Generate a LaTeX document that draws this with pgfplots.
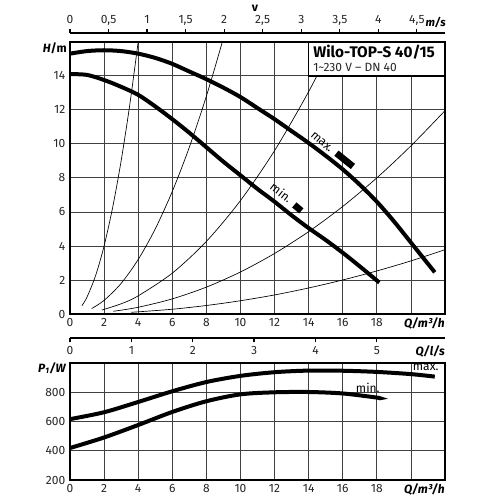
\documentclass[border=0pt]{standalone}
\usepackage{fontspec}
\setmainfont{Fira Sans}
\usepackage{pgfplots}
\pgfplotsset{compat=1.18}
\begin{document}
\begin{tikzpicture}
\useasboundingbox (0,0) rectangle (375pt,-375pt);
\pgfplotsset{
 base/.style={scale only axis, width=281.25pt, xmin=0, xmax=22,
   /pgf/number format/assume math mode=true,
   tick label style={font=\fontsize{9}{10}\selectfont, text=black!85},
   axis line style={line width=1.5pt},
   major grid style={line width=0.6pt, draw=black!75},
   grid=major, major tick length=0pt, clip mode=individual,
   xtick={0,2,...,20}, xticklabels={0,2,4,6,8,10,12,14,16,18,{}}},
 thick curve/.style={line width=3pt, black, smooth, no marks},
 thin curve/.style={line width=0.5pt, black, smooth, no marks},
}
% ---------- upper H(Q) chart
\begin{axis}[base, at={(52.5pt,-235.5pt)}, anchor=south west, height=204.2pt,
  ymin=0, ymax=16, ytick={0,2,...,14}]
% system curves
\addplot[thin curve] coordinates {(0.7,0.49)(1,1)(1.5,2.25)(2,4)(2.5,6.25)(3,9)(3.5,12.25)(4,16)};
\addplot[thin curve] coordinates {(1.27,0.32)(2,0.8)(3,1.8)(4,3.2)(5,5)(6,7.2)(7,9.8)(8,12.8)(8.94,16)};
\addplot[thin curve] coordinates {(1.86,0.23)(3,0.6)(4,1.067)(6,2.4)(8,4.267)(10,6.667)(12,9.6)(14,13.067)(15.49,16)};
\addplot[thin curve] coordinates {(2.54,0.16)(4,0.395)(6,0.889)(8,1.58)(10,2.47)(12,3.557)(14,4.84)(16,6.32)(18,8.0)(20,9.88)(22,11.95)};
\addplot[thin curve] coordinates {(3.6,0.10)(6,0.28)(8,0.5)(10,0.78)(12,1.12)(14,1.53)(16,2.0)(18,2.53)(20,3.12)(22,3.78)};
% max curve
\addplot[thick curve] coordinates {(0,15.3)(1,15.45)(2,15.5)(3,15.45)(4,15.3)(5,15.05)(6,14.7)(7,14.25)(8,13.8)(9,13.3)(10,12.75)(11,12.1)(12,11.45)(13,10.75)(14,10.05)(15,9.3)(16,8.5)(17,7.6)(18,6.6)(19,5.45)(20,4.2)(21,2.95)(21.4,2.45)};
% min curve
\addplot[thick curve] coordinates {(0,14.1)(1,14.05)(2,13.75)(3,13.35)(4,12.88)(5,12.2)(6,11.45)(7,10.65)(8,9.8)(9,8.95)(10,8.15)(11,7.35)(12,6.6)(13,5.8)(14,5.05)(15,4.35)(16,3.6)(17,2.8)(18,1.97)(18.15,1.85)};
% markers
\addplot[line width=5pt, black, no marks] coordinates {(15.63,9.45)(16.6,8.67)};
\addplot[line width=5pt, black, no marks] coordinates {(13.16,6.41)(13.57,6.06)};
\node[rotate=-40, font=\fontsize{9}{10}\selectfont, inner sep=0.5pt] at (axis cs:14.78,10.1) {max.};
\node[rotate=-38, font=\fontsize{9}{10}\selectfont, inner sep=0.5pt] at (axis cs:12.4,7.15) {min.};
% legend box
\draw[fill=white, line width=1.2pt] (axis cs:14,14) rectangle (axis cs:22,16);
\end{axis}
% ---------- lower P1(Q) chart
\begin{axis}[base, at={(52.5pt,-360pt)}, anchor=south west, height=88pt,
  ymin=200, ymax=1000, ytick={200,400,600,800}]
\addplot[thick curve] coordinates {(0,615)(2,662)(4,732)(6,805)(8,868)(10,910)(12,935)(14,946)(16,945)(18,937)(20,922)(21.4,905)};
\addplot[thick curve] coordinates {(0,418)(2,490)(4,575)(6,664)(8,737)(10,784)(12,798)(14,800)(16,790)(18,762)(18.15,757)};
\node[font=\fontsize{9}{10}\selectfont, inner sep=0.5pt] at (axis cs:20.87,966) {max.};
\node[font=\fontsize{9}{10}\selectfont, inner sep=0.5pt] at (axis cs:17.47,826) {min.};
\end{axis}
% ---------- velocity axis
\begin{axis}[scale only axis, width=281.25pt, height=5pt, at={(52.5pt,-24.75pt)}, anchor=north west,
  xmin=0, xmax=4.865, ymin=0, ymax=1, axis x line*=top, axis y line=none,
  xtick={0,0.5,...,4.5}, xticklabels={0,{0,5},1,{1,5},2,{2,5},3,{3,5},4,{4,5}},
  tick align=outside, major tick length=3pt,
  axis line style={line width=1.2pt}, tick style={line width=0.9pt, black},
  xticklabel style={font=\fontsize{9}{10}\selectfont, text=black!85, anchor=base, yshift=4.5pt}]
\addplot[draw=none] coordinates {(0,0)};
\end{axis}
% ---------- Q l/s axis
\begin{axis}[scale only axis, width=281.25pt, height=5pt, at={(52.5pt,-253.5pt)}, anchor=south west,
  xmin=0, xmax=6.1111, ymin=0, ymax=1, axis x line*=bottom, axis y line=none,
  xtick={0,1,...,5},
  tick align=outside, major tick length=3pt,
  axis line style={line width=1.2pt}, tick style={line width=0.9pt, black},
  xticklabel style={font=\fontsize{9}{10}\selectfont, text=black!85},
  /pgf/number format/assume math mode=true]
\addplot[draw=none] coordinates {(0,0)};
\end{axis}
% ---------- text labels
\node[anchor=east, font=\fontsize{9}{10}\selectfont\bfseries, inner sep=0pt] at (50.25pt,-36pt) {\textit{H}/m};
\node[anchor=east, font=\fontsize{9}{10}\selectfont\bfseries\itshape, inner sep=0pt] at (333.75pt,-242.25pt) {Q/m³/h};
\node[anchor=east, font=\fontsize{9}{10}\selectfont\bfseries\itshape, inner sep=0pt] at (333.75pt,-263.6pt) {Q/l/s};
\node[anchor=east, font=\fontsize{9}{10}\selectfont\bfseries\itshape, inner sep=0pt] at (49.5pt,-276pt) {P\textsubscript{1}/W};
\node[anchor=east, font=\fontsize{9}{10}\selectfont\bfseries\itshape, inner sep=0pt] at (333.75pt,-366.75pt) {Q/m³/h};
\node[anchor=east, font=\fontsize{8.5}{10}\selectfont\bfseries\itshape, inner sep=0pt] at (334.5pt,-17.25pt) {m/s};
\node[font=\fontsize{9}{10}\selectfont\bfseries, inner sep=0pt] at (191.25pt,-6pt) {v};
\node[anchor=west, font=\fontsize{11.5}{12}\selectfont\bfseries, inner sep=0pt] at (234.75pt,-39pt) {Wilo-TOP-S 40/15};
\node[anchor=west, font=\fontsize{9}{10}\selectfont, text=black!85, inner sep=0pt] at (234.75pt,-50.25pt) {1\textasciitilde 230 V – DN 40};
\end{tikzpicture}
\end{document}
